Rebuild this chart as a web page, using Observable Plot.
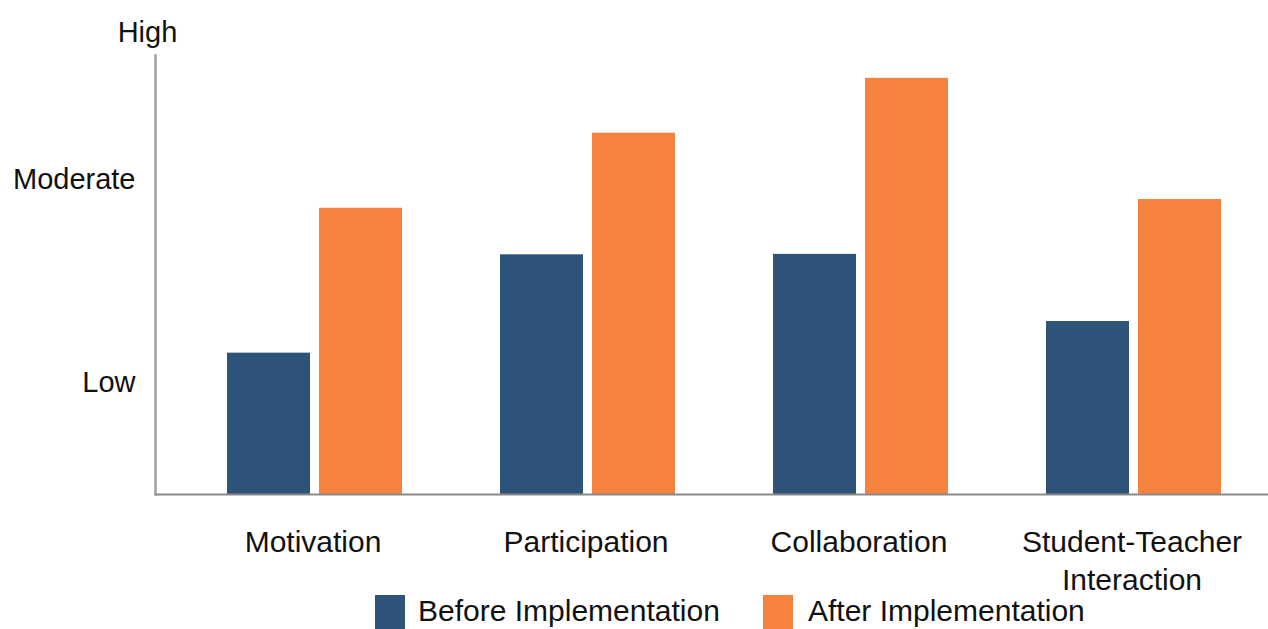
<!DOCTYPE html>
<html>
<head>
<meta charset="utf-8">
<script src="https://cdn.jsdelivr.net/npm/d3@7"></script>
<script src="https://cdn.jsdelivr.net/npm/@observablehq/plot@0.6"></script>
<style>
  html, body { margin: 0; padding: 0; background: #fff; }
  body { position: relative; width: 1268px; height: 629px; overflow: hidden; font-family: "Liberation Sans", Arial, sans-serif; }
  #chart { height: 595px; }
  #legend { position: absolute; left: 0; top: 595px; width: 1268px; height: 34px; }
  .sw { position: absolute; top: 0px; width: 30px; height: 34px; }
  .lb { position: absolute; top: 1px; font-size: 30px; line-height: 30px; color: #111; white-space: nowrap; }
</style>
</head>
<body>
<div id="chart"></div>
<div id="legend"></div>
<script>
const categories = ["Motivation", "Participation", "Collaboration", "Student-Teacher Interaction"];
const categoryLabels = ["Motivation", "Participation", "Collaboration", "Student-Teacher\nInteraction"];
const series = ["Before Implementation", "After Implementation"];
const beforeValues = [32.2, 54.6, 54.7, 39.4];
const afterValues = [65.2, 82.3, 94.8, 67.2];
const levelLabels = ["Low", "Moderate", "High"];
const levelValues = [25.5, 71.8, 105.2];
const colors = ["#2d5478", "#f5823f"];

const rows = [];
categories.forEach((c, i) => {
  rows.push({category: c, series: series[0], value: beforeValues[i]});
  rows.push({category: c, series: series[1], value: afterValues[i]});
});

const chart = Plot.plot({
  width: 1268,
  height: 595,
  marginLeft: 155,
  marginRight: 0,
  marginTop: 55,
  marginBottom: 101,
  style: {fontFamily: "'Liberation Sans', Arial, sans-serif", fontSize: "29px", color: "#111", background: "white"},
  x: {type: "band", domain: categories, range: [226, 1222], paddingInner: 0.36, paddingOuter: 0, axis: null},
  y: {domain: [0, 100]},
  color: {domain: series, range: colors},
  marks: [
    Plot.barY(rows.filter(d => d.series === series[0]), {x: "category", y: "value", fill: "series", insetRight: 92}),
    Plot.barY(rows.filter(d => d.series === series[1]), {x: "category", y: "value", fill: "series", insetLeft: 92}),
    Plot.frame({anchor: "left", stroke: "#a0a0a0", strokeWidth: 2.5}),
    Plot.ruleY([0], {stroke: "#8a8a8a", strokeWidth: 2}),
    Plot.axisY(levelValues.slice(0, 2), {
      tickSize: 0, tickPadding: 20, fontSize: 29, label: null,
      tickFormat: d => levelLabels[levelValues.indexOf(d)]
    }),
    Plot.text([levelLabels[2]], {y: levelValues[2], text: d => d, frameAnchor: "left", dx: -8, textAnchor: "middle", fontSize: 29, fill: "#111"}),
    Plot.text(categories, {x: d => d, text: (d, i) => categoryLabels[i], frameAnchor: "bottom", dx: -2, dy: 31, lineAnchor: "top", lineHeight: 1.25, fontSize: 30, fill: "#111"})
  ]
});
document.getElementById("chart").appendChild(chart);

const legend = document.getElementById("legend");
const swLeft = [375, 763];
const lbLeft = [418, 808];
series.forEach((s, i) => {
  const sw = document.createElement("div");
  sw.className = "sw";
  sw.style.left = swLeft[i] + "px";
  sw.style.background = colors[i];
  legend.appendChild(sw);
  const lb = document.createElement("div");
  lb.className = "lb";
  lb.style.left = lbLeft[i] + "px";
  lb.textContent = s;
  legend.appendChild(lb);
});
</script>
</body>
</html>
